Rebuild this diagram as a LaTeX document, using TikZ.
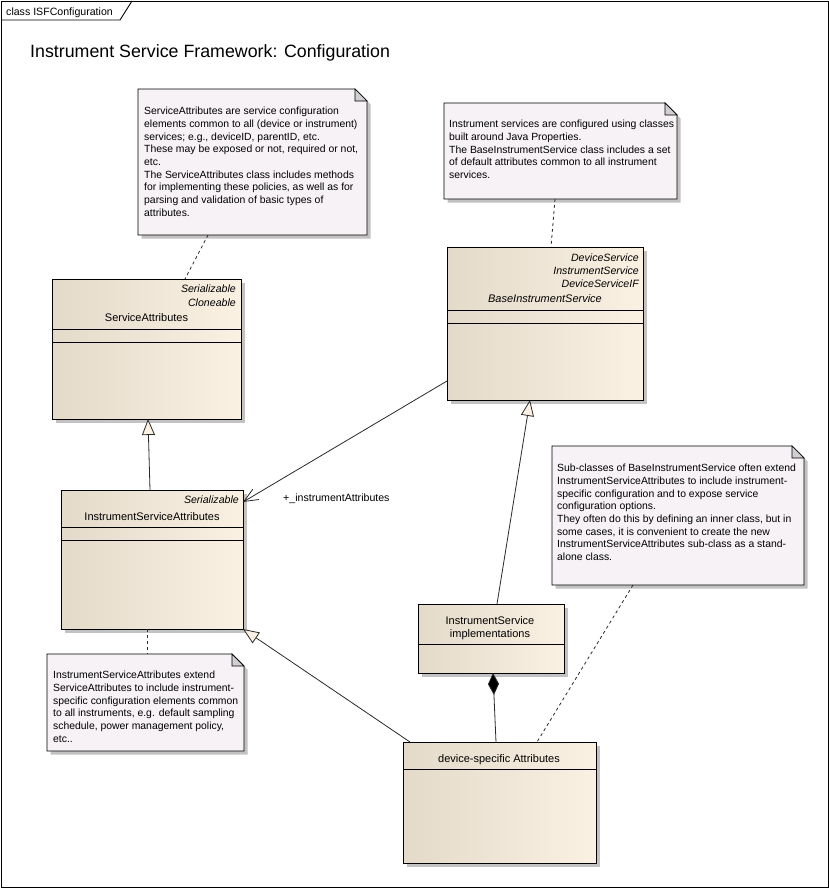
\documentclass[tikz,border=0pt]{standalone}
\usepackage{fontspec}
\setmainfont{Liberation Sans}
\usetikzlibrary{shadows,arrows.meta,calc}
\definecolor{clsL}{HTML}{E4DACA}
\definecolor{clsR}{HTML}{FBF1E3}
\definecolor{notec}{HTML}{F6F2F6}
\definecolor{foldc}{HTML}{D0D0D0}
\definecolor{shadowc}{HTML}{C2C2C2}
\definecolor{linec}{HTML}{2A2A2A}
\tikzset{
  classbox/.style={draw=black, line width=0.9pt, left color=clsL, right color=clsR,
    drop shadow={shadow xshift=3.5pt, shadow yshift=-3.5pt, fill=shadowc, opacity=1},
    anchor=north west, inner sep=0pt, outer sep=0pt},
  noteframe/.style={draw=none, anchor=north west, inner sep=0pt, outer sep=0pt},
  smalltext/.style={inner sep=0pt, font=\fontsize{10.6}{12.7}\selectfont},
  stereo/.style={smalltext, font=\fontsize{10.6}{12.7}\selectfont\itshape, anchor=base east},
  clsname/.style={inner sep=0pt, font=\fontsize{11}{13}\selectfont, anchor=base},
  notetext/.style={inner sep=0pt, font=\fontsize{10.4}{12.7}\selectfont, anchor=north west, align=left},
  sepline/.style={draw=black, line width=0.9pt},
  genarrow/.style={draw=linec, line width=0.8pt, -{Triangle[open, length=16pt, width=13pt, fill=clsR]}},
  assocarrow/.style={draw=linec, line width=0.8pt, -{Straight Barb[length=14pt, width=12pt]}},
  comparrow/.style={draw=linec, line width=0.8pt, {Diamond[length=22pt, width=11pt, fill=black]}-},
  notelink/.style={draw=linec, line width=0.8pt, dash pattern=on 3pt off 3pt},
}
\newcommand\drawnoteshape[1]{%
  \fill[shadowc] ([xshift=3.5pt,yshift=-3.5pt]#1.north west) -- ([xshift=-8.5pt,yshift=-3.5pt]#1.north east) -- ([xshift=3.5pt,yshift=-15.5pt]#1.north east) -- ([xshift=3.5pt,yshift=-3.5pt]#1.south east) -- ([xshift=3.5pt,yshift=-3.5pt]#1.south west) -- cycle;
  \filldraw[fill=notec, draw=black, line width=0.9pt] (#1.north west) -- ([xshift=-12pt]#1.north east) -- ([yshift=-12pt]#1.north east) -- (#1.south east) -- (#1.south west) -- cycle;
  \filldraw[fill=foldc, draw=black, line width=0.7pt] ([xshift=-12pt]#1.north east) -- ([xshift=-12pt,yshift=-12pt]#1.north east) -- ([yshift=-12pt]#1.north east) -- cycle;
}
\begin{document}
\begin{tikzpicture}[x=1pt,y=-1pt]
\useasboundingbox (0,0) rectangle (829,889);
\fill[white] (0,0) rectangle (829,889);
% frame
\node[draw=black, line width=0.9pt, anchor=north west, inner sep=0pt, outer sep=0pt, minimum width=827pt, minimum height=886pt] (frame) at (1,1) {};
\draw[black, line width=0.9pt] (1,20) -- (120,20) -- (132,1);
\node[smalltext, anchor=base west] (tab) at (6,15) {class ISFConfiguration};
\node[inner sep=0pt, anchor=base west, font=\fontsize{17.8}{20}\selectfont] (title) at (30,57) {Instrument Service Framework: Configuration};

% notes
\node[noteframe, minimum width=229pt, minimum height=146pt] (n1) at (138,89) {};
\drawnoteshape{n1}
\node[notetext] (n1t) at (144,107) {ServiceAttributes are service configuration\\elements common to all (device or instrument)\\services; e.g., deviceID, parentID, etc.\\These may be exposed or not, required or not,\\etc.\\The ServiceAttributes class includes methods\\for implementing these policies, as well as for\\parsing and validation of basic types of\\attributes.};

\node[noteframe, minimum width=233pt, minimum height=96pt] (n2) at (444,103) {};
\drawnoteshape{n2}
\node[notetext] (n2t) at (449,120) {Instrument services are configured using classes\\built around Java Properties.\\The BaseInstrumentService class includes a set\\of default attributes common to all instrument\\services.};

\node[noteframe, minimum width=197pt, minimum height=97pt] (n3) at (47,654) {};
\drawnoteshape{n3}
\node[notetext] (n3t) at (53,671) {InstrumentServiceAttributes extend\\ServiceAttributes to include instrument-\\specific configuration elements common\\to all instruments, e.g. default sampling\\schedule, power management policy,\\etc..};

\node[noteframe, minimum width=252pt, minimum height=139pt] (n4) at (552,446) {};
\drawnoteshape{n4}
\node[notetext] (n4t) at (557,464) {Sub-classes of BaseInstrumentService often extend\\InstrumentServiceAttributes to include instrument-\\specific configuration and to expose service\\configuration options.\\They often do this by defining an inner class, but in\\some cases, it is convenient to create the new\\InstrumentServiceAttributes sub-class as a stand-\\alone class.};

% classes
\node[classbox, minimum width=189pt, minimum height=140pt] (sa) at (52,279) {};
\draw[sepline] ([yshift=-50pt]sa.north west) -- ([yshift=-50pt]sa.north east);
\draw[sepline] ([yshift=-63pt]sa.north west) -- ([yshift=-63pt]sa.north east);
\node[stereo] (sas1) at (236,292) {Serializable};
\node[stereo] (sas2) at (236,306) {Cloneable};
\node[clsname] (san) at (146.5,321) {ServiceAttributes};

\node[classbox, minimum width=182pt, minimum height=139pt] (isa) at (61,490) {};
\draw[sepline] ([yshift=-37pt]isa.north west) -- ([yshift=-37pt]isa.north east);
\draw[sepline] ([yshift=-50pt]isa.north west) -- ([yshift=-50pt]isa.north east);
\node[stereo] (isas1) at (239,503) {Serializable};
\node[clsname] (isan) at (152,520) {InstrumentServiceAttributes};

\node[classbox, minimum width=196pt, minimum height=153pt] (bis) at (447,247) {};
\draw[sepline] ([yshift=-63pt]bis.north west) -- ([yshift=-63pt]bis.north east);
\draw[sepline] ([yshift=-76pt]bis.north west) -- ([yshift=-76pt]bis.north east);
\node[stereo] (biss1) at (639,261) {DeviceService};
\node[stereo] (biss2) at (639,274) {InstrumentService};
\node[stereo] (biss3) at (639,287) {DeviceServiceIF};
\node[clsname, font=\fontsize{11}{13}\selectfont\itshape] (bisn) at (545,302) {BaseInstrumentService};

\node[classbox, minimum width=146pt, minimum height=69pt] (isi) at (418,604) {};
\draw[sepline] ([yshift=-40pt]isi.north west) -- ([yshift=-40pt]isi.north east);
\node[clsname] (isin1) at (490,624) {InstrumentService};
\node[clsname] (isin2) at (490,637) {implementations};

\node[classbox, minimum width=193pt, minimum height=121pt] (dsa) at (403,742) {};
\draw[sepline] ([yshift=-27pt]dsa.north west) -- ([yshift=-27pt]dsa.north east);
\node[clsname] (dsan) at (499,762) {device-specific Attributes};

% connectors
\draw[genarrow] ([xshift=89pt]isa.north west) -- ([xshift=96pt]sa.south west);
\draw[genarrow] ([xshift=7pt]dsa.north west) -- (isa.south east);
\draw[genarrow] ([xshift=79pt]isi.north west) -- ([xshift=83pt]bis.south west);
\draw[assocarrow] ([yshift=-134pt]bis.north west) -- ([yshift=-12pt]isa.north east);
\node[smalltext, anchor=base west] (assoclbl) at (283,501) {+\_instrumentAttributes};
\draw[comparrow] ([xshift=75pt]isi.south west) -- ([xshift=93pt]dsa.north west);
\draw[notelink] ([xshift=70pt]n1.south west) -- ([xshift=133pt]sa.north west);
\draw[notelink] ([xshift=111pt]n2.south west) -- ([xshift=104pt]bis.north west);
\draw[notelink] ([xshift=81pt]n4.south west) -- ([xshift=134pt]dsa.north west);
\draw[notelink] ([xshift=86pt]isa.south west) -- ([xshift=100pt]n3.north west);
\end{tikzpicture}
\end{document}
